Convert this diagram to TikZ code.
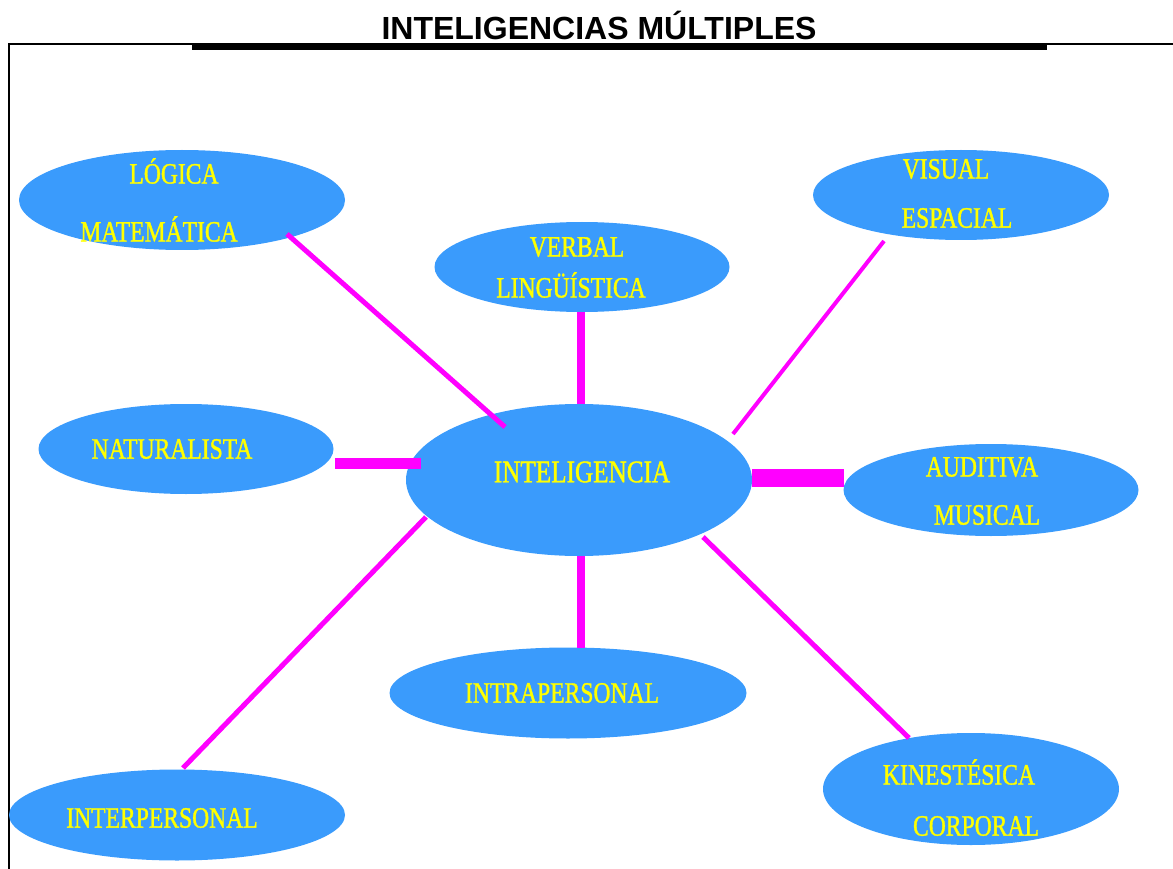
\documentclass[tikz,border=0pt]{standalone}
\usepackage{fontspec}
\setmainfont{Liberation Serif}
\newfontfamily\titlefont{Liberation Sans}
\newfontfamily\lblfont[FakeStretch=0.8,FakeBold=1.2]{Liberation Serif}
\usetikzlibrary{shapes.geometric}
\definecolor{bubble}{HTML}{3A9BFC}
\definecolor{lnk}{HTML}{FF00FF}
\definecolor{lbl}{HTML}{FFFF00}
\tikzset{
  bub/.style={ellipse, fill=bubble, draw=none, inner sep=0pt},
  txt/.style={font=\lblfont\fontsize{29.5}{30}\selectfont, text=lbl, inner sep=0pt, anchor=center},
  link/.style={draw=lnk, line cap=butt},
}
\begin{document}
\begin{tikzpicture}[x=1pt,y=-1pt]
\useasboundingbox (0,0) rectangle (1173,869);
% frame
\draw[line width=1.5pt] (9,869) -- (9,44) -- (1173,44);
\fill (192,45) rectangle (1047,50);
\node[font=\titlefont\bfseries\fontsize{32}{34}\selectfont, inner sep=0pt] (title) at (599,25) {INTELIGENCIAS MÚLTIPLES};
% bubbles
\node[bub, minimum width=326, minimum height=100] (log) at (182,200) {};
\node[bub, minimum width=295, minimum height=90] (ver) at (582,267) {};
\node[bub, minimum width=296, minimum height=90] (vis) at (961,195) {};
\node[bub, minimum width=295, minimum height=90] (nat) at (186,449) {};
\node[bub, minimum width=346, minimum height=152] (int) at (579,480) {};
\node[bub, minimum width=295, minimum height=92] (aud) at (991,490) {};
\node[bub, minimum width=357, minimum height=91] (intra) at (568,693) {};
\node[bub, minimum width=336, minimum height=91] (inter) at (177,815) {};
\node[bub, minimum width=296, minimum height=112] (kin) at (971,789) {};
% connector end points
\coordinate (logA) at (287,234); \coordinate (logB) at (505,427);
\coordinate (verA) at (581,312); \coordinate (verB) at (581,404);
\coordinate (visA) at (884,241); \coordinate (visB) at (733,434);
\coordinate (natA) at (335,463); \coordinate (natB) at (421,463);
\coordinate (audA) at (752,478); \coordinate (audB) at (844,478);
\coordinate (intraA) at (581,556); \coordinate (intraB) at (581,648);
\coordinate (interA) at (426,517); \coordinate (interB) at (183,768);
\coordinate (kinA) at (703,537); \coordinate (kinB) at (909,738);
\draw[link, line width=5] (logA) -- (logB);
\draw[link, line width=8] (verA) -- (verB);
\draw[link, line width=4] (visA) -- (visB);
\draw[link, line width=11] (natA) -- (natB);
\draw[link, line width=18] (audA) -- (audB);
\draw[link, line width=8] (intraA) -- (intraB);
\draw[link, line width=5] (interA) -- (interB);
\draw[link, line width=5] (kinA) -- (kinB);
% labels
\node[txt] (t1) at (174,171) {LÓGICA};
\node[txt] (t2) at (159,229) {MATEMÁTICA};
\node[txt] (t3) at (577,247) {VERBAL};
\node[txt] (t4) at (571,285) {LINGÜÍSTICA};
\node[txt] (t5) at (946,169) {VISUAL};
\node[txt] (t6) at (957,218) {ESPACIAL};
\node[txt] (t7) at (172,449) {NATURALISTA};
\node[txt, font=\lblfont\fontsize{31.5}{32}\selectfont] (t8) at (582,472) {INTELIGENCIA};
\node[txt] (t9) at (982,467) {AUDITIVA};
\node[txt] (t10) at (987,515) {MUSICAL};
\node[txt] (t11) at (562,693) {INTRAPERSONAL};
\node[txt] (t12) at (162,818) {INTERPERSONAL};
\node[txt] (t13) at (959,772) {KINESTÉSICA};
\node[txt] (t14) at (976,826) {CORPORAL};
\end{tikzpicture}
\end{document}
